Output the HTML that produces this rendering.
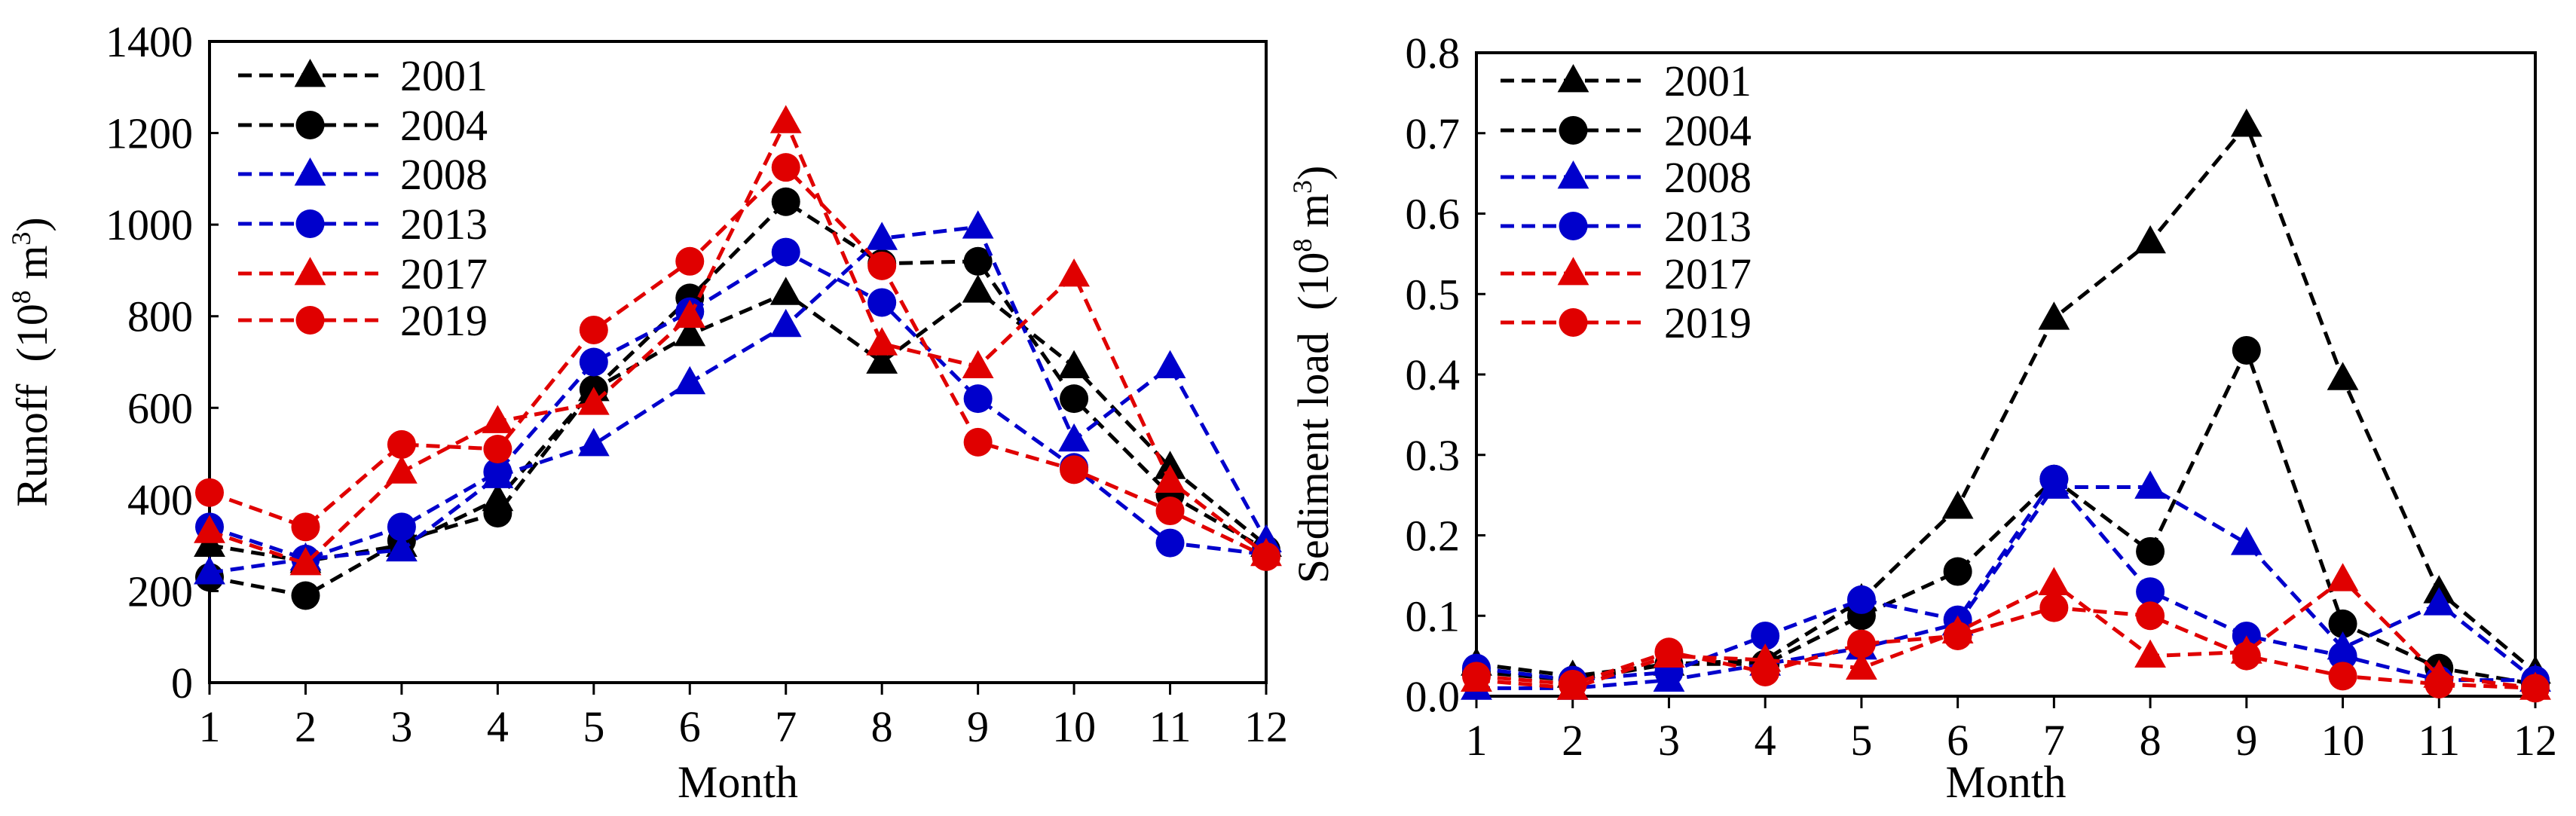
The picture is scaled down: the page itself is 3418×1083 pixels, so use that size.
<!DOCTYPE html>
<html><head><meta charset="utf-8"><style>
body{margin:0;background:#fff}
svg{display:block}
text{font-family:"Liberation Serif",serif;fill:#000}
</style></head><body>
<svg id="chart" width="3418" height="1083" viewBox="0 0 3418 1083" xmlns="http://www.w3.org/2000/svg"></svg>
<script>
const months=[1,2,3,4,5,6,7,8,9,10,11,12];
const years=["2001","2004","2008","2013","2017","2019"];
const colors=["#000","#000","#0000cc","#0000cc","#e00000","#e00000"];
const shapes=["tri","circ","tri","circ","tri","circ"];
const runoff2001=[300,265,300,400,640,760,850,700,855,690,470,300];
const runoff2004=[230,190,310,370,640,840,1050,915,920,620,410,290];
const runoff2008=[240,270,290,450,520,655,780,970,995,530,690,310];
const runoff2013=[340,270,340,460,700,810,940,830,620,470,305,280];
const runoff2017=[330,260,460,570,610,800,1225,740,690,890,440,280];
const runoff2019=[415,340,520,510,770,920,1125,910,525,465,375,275];
const sed2001=[0.04,0.025,0.04,0.045,0.12,0.235,0.47,0.565,0.71,0.395,0.13,0.03];
const sed2004=[0.03,0.02,0.04,0.04,0.1,0.155,0.27,0.18,0.43,0.09,0.035,0.015];
const sed2008=[0.01,0.01,0.02,0.04,0.06,0.09,0.26,0.26,0.19,0.06,0.115,0.02];
const sed2013=[0.035,0.02,0.03,0.075,0.12,0.095,0.27,0.13,0.075,0.05,0.02,0.02];
const sed2017=[0.02,0.01,0.05,0.045,0.035,0.08,0.14,0.05,0.055,0.145,0.025,0.01];
const sed2019=[0.025,0.015,0.055,0.03,0.065,0.075,0.11,0.1,0.05,0.025,0.015,0.01];
const runoffTicks=[0,200,400,600,800,1000,1200,1400];
const sedTicks=["0.0","0.1","0.2","0.3","0.4","0.5","0.6","0.7","0.8"];

const NS="http://www.w3.org/2000/svg";
const svg=document.getElementById('chart');
function mk(tag,attrs,parent){const e=document.createElementNS(NS,tag);for(const k in attrs)e.setAttribute(k,attrs[k]);(parent||svg).appendChild(e);return e;}
function marker(g,shape,x,y,c){
  if(shape==="circ"){const m=mk('circle',{cx:x,cy:y,r:19,fill:c},g);return m;}
  const s=22;const m=mk('polygon',{points:`${x},${y-s} ${x-s*0.95},${y+s*0.7} ${x+s*0.95},${y+s*0.7}`,fill:c},g);return m;
}
function drawPanel(p){
  const g=mk('g',{});
  
  
  const X=m=>p.x0+(m-1)/11*(p.x1-p.x0);
  const Y=v=>p.y1-(v-p.min)/(p.max-p.min)*(p.y1-p.y0);
  const frame=mk('rect',{x:p.x0,y:p.y0,width:p.x1-p.x0,height:p.y1-p.y0,fill:"none",stroke:"#000","stroke-width":4},g);
  
  
  p.ticks.forEach(t=>{const v=parseFloat(t);const y=Y(v);
    mk('line',{x1:p.x0,x2:p.x0+12,y1:y,y2:y,stroke:"#000","stroke-width":3},g);
    const tx=mk('text',{x:p.x0-22,y:y+20,"text-anchor":"end","font-size":58},g);tx.textContent=t;
    
    
  });
  months.forEach(m=>{const x=X(m);
    mk('line',{x1:x,x2:x,y1:p.y1,y2:p.y1+16,stroke:"#000","stroke-width":3},g);
    const tx=mk('text',{x:x,y:p.y1+78,"text-anchor":"middle","font-size":58},g);tx.textContent=m;
    
    
  });
  const xt=mk('text',{x:(p.x0+p.x1)/2,y:1058,"text-anchor":"middle","font-size":60},g);xt.textContent="Month";
  
  
  const yt=mk('text',{x:0,y:0,"text-anchor":"middle","font-size":58,transform:`translate(${p.tx},${(p.y0+p.y1)/2}) rotate(-90)`},g);
  yt.innerHTML=p.title+'\u2002(10<tspan dy="-22" font-size="36">8</tspan><tspan dy="22"> m</tspan><tspan dy="-22" font-size="36">3</tspan><tspan dy="22">)</tspan>';
  
  
  p.series.forEach((arr,i)=>{
    const sg=mk('g',{},g);
    
    
    const pts=arr.map((v,j)=>X(months[j])+","+Y(v)).join(" ");
    mk('polyline',{points:pts,fill:"none",stroke:colors[i],"stroke-width":5,"stroke-dasharray":"18 10"},sg);
    arr.forEach((v,j)=>{const m=marker(sg,shapes[i],X(months[j]),Y(v),colors[i]);
      
      
    });
    const ly=p.ly[i];
    const lg=mk('g',{},sg);
    
    
    mk('line',{x1:p.lx0,x2:p.lx1,y1:ly,y2:ly,stroke:colors[i],"stroke-width":5,"stroke-dasharray":"18 10"},lg);
    marker(lg,shapes[i],(p.lx0+p.lx1)/2,ly,colors[i]);
    const lt=mk('text',{x:p.lx1+24,y:ly+20,"font-size":58},lg);lt.textContent=years[i];
  });
}
drawPanel({name:'runoff-panel',x0:278,x1:1680,y0:55,y1:906,min:0,max:1400,ticks:runoffTicks.map(String),
  title:'Runoff',tx:62,series:[runoff2001,runoff2004,runoff2008,runoff2013,runoff2017,runoff2019],
  lx0:316,lx1:507,ly:[100,166,231,297,363,425]});
drawPanel({name:'sediment-panel',x0:1959,x1:3364,y0:70,y1:924,min:0,max:0.8,ticks:sedTicks,
  title:'Sediment load',tx:1762,series:[sed2001,sed2004,sed2008,sed2013,sed2017,sed2019],
  lx0:1991,lx1:2184,ly:[107,173,235,300,363,428]});
</script>
</body></html>
